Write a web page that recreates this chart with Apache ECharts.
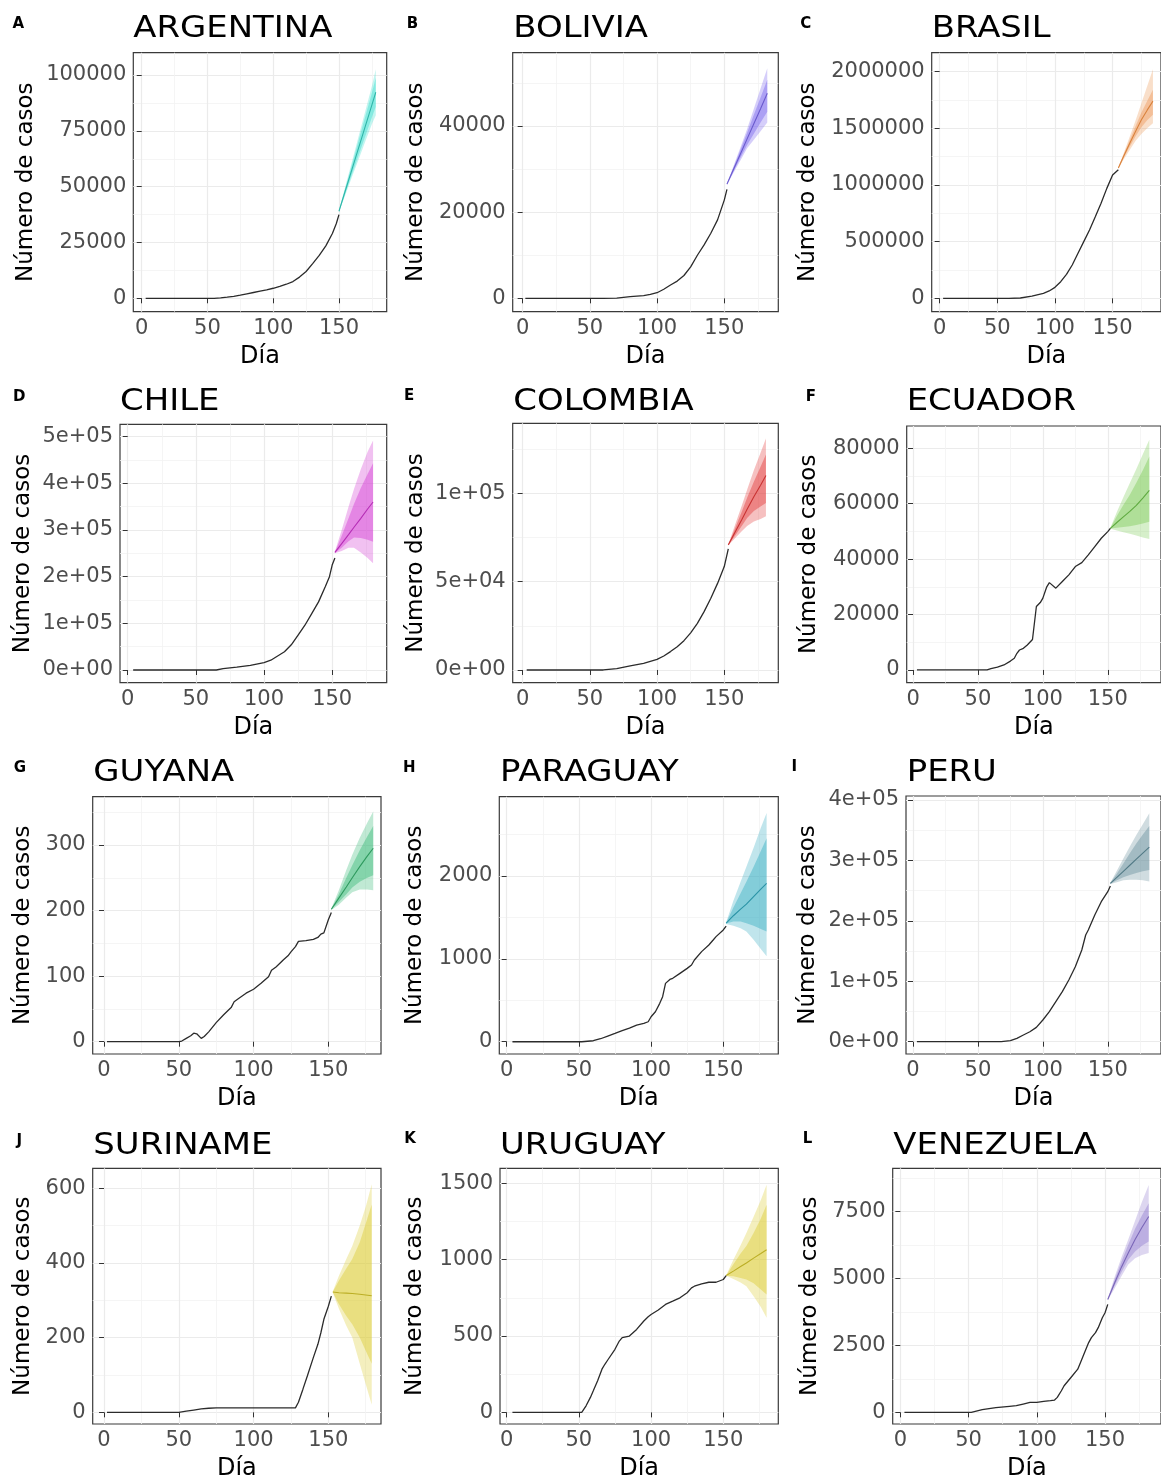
<!DOCTYPE html>
<html><head><meta charset="utf-8">
<script src="https://cdn.jsdelivr.net/npm/echarts@6/dist/echarts.min.js"></script>
<style>html,body{margin:0;padding:0;background:#fff}#c{width:1161px;height:1482px}</style>
</head><body><div id="c"></div>
<script>
// ---------------- DATA ----------------
const xTicks = [0, 50, 100, 150];
const xTickLabels = ['0', '50', '100', '150'];

// historical cumulative cases: [day, cases]
const argHist = [[3,0],[20,0],[40,0],[55,0],[60,150],[65,500],[70,900],[75,1400],[80,2000],[85,2600],[90,3200],[95,3800],[100,4500],[105,5300],[110,6300],[115,7500],[120,9500],[125,12000],[130,15500],[135,19200],[140,23500],[145,29000],[148,33500],[150,37500]];
const bolHist = [[2,0],[30,0],[60,0],[70,50],[80,400],[90,650],[95,900],[100,1300],[105,2100],[110,3100],[115,4000],[120,5300],[125,7300],[130,10000],[135,12400],[140,15100],[145,18200],[150,22800],[152,25300]];
const braHist = [[3,0],[30,0],[60,0],[70,3000],[80,20000],[90,44000],[95,65000],[100,97000],[105,147000],[110,212000],[115,294000],[120,397000],[125,500000],[130,603000],[135,720000],[140,838000],[145,970000],[150,1088000],[155,1135000]];
const chiHist = [[4,0],[30,0],[65,0],[70,3000],[80,6000],[90,10000],[100,16000],[105,21000],[110,30000],[115,39000],[120,54000],[125,75000],[130,96000],[135,121000],[140,146000],[145,179000],[148,200000],[150,225000],[152,240000]];
const colHist = [[3,0],[30,0],[60,0],[70,750],[80,2300],[90,3800],[100,6000],[105,7900],[110,10400],[115,13200],[120,16600],[125,21000],[130,26400],[135,33000],[140,40600],[145,49000],[150,58500],[153,68500]];
const ecuHist = [[3,0],[30,0],[57,0],[60,500],[65,1000],[70,1800],[75,3200],[78,4200],[80,6000],[82,7200],[85,7800],[88,9000],[92,11000],[95,22900],[98,24300],[100,25900],[103,30000],[105,31500],[110,29500],[115,31900],[120,34300],[125,37300],[130,38700],[135,41500],[140,44500],[145,47500],[150,49900],[152,51100]];
const guyHist = [[2,0],[30,0],[50,0],[52,1],[55,5],[58,9],[60,13],[62,12],[65,5],[67,8],[70,15],[75,29],[80,41],[85,52],[87,61],[90,66],[95,74],[100,80],[105,89],[110,99],[112,109],[115,114],[120,125],[123,131],[125,137],[128,145],[130,153],[135,154],[140,156],[143,159],[145,164],[147,166],[150,186],[152,197]];
const parHist = [[4,0],[30,0],[52,0],[60,12],[65,36],[70,68],[75,100],[80,133],[85,165],[90,201],[95,221],[98,241],[100,302],[103,362],[106,463],[108,543],[110,704],[113,752],[115,765],[120,825],[125,885],[128,926],[130,986],[135,1087],[140,1167],[143,1227],[145,1268],[150,1348],[152,1396]];
const perHist = [[3,0],[30,0],[68,0],[75,1700],[80,5500],[85,11000],[90,16500],[95,23700],[100,35900],[105,49700],[110,66200],[115,82800],[120,102000],[125,124000],[130,151700],[133,176600],[135,184800],[140,209700],[145,231700],[150,248300],[152,257700]];
const surHist = [[2,0],[30,0],[50,0],[55,3],[60,6],[65,9],[70,11],[75,12],[100,12],[128,12],[130,27],[133,62],[136,98],[140,147],[143,182],[145,213],[147,249],[150,284],[152,311]];
const uruHist = [[4,0],[30,0],[52,0],[55,43],[58,98],[60,141],[63,207],[66,283],[68,315],[70,343],[75,413],[78,467],[80,489],[85,500],[90,543],[95,598],[98,626],[100,641],[105,670],[110,707],[115,728],[120,750],[125,783],[128,815],[130,826],[135,841],[140,852],[145,852],[150,870],[152,896]];
const venHist = [[3,0],[30,0],[52,0],[60,99],[70,174],[80,223],[85,248],[90,310],[95,372],[100,372],[105,409],[110,434],[113,459],[115,558],[118,806],[120,992],[125,1302],[130,1612],[133,1983],[135,2231],[138,2603],[140,2789],[143,2975],[145,3161],[148,3533],[150,3719],[152,4029]];

// forecasts: [day, mean, lo80, hi80, lo95, hi95]
const argFc = [[150,39000,38800,39200,38600,39400],[155,48500,47300,49700,46500,50500],[160,58000,55800,60200,54500,61500],[165,67500,64200,70800,62300,72700],[170,77000,72600,81400,70200,83800],[175,86500,81000,92000,78000,95000],[178,92300,85800,98800,82000,102600]];
const bolFc = [[152,26500,26400,26600,26300,26700],[157,30000,29500,30500,29200,30800],[162,33500,32600,34400,32000,35000],[167,37000,35600,38400,34800,39300],[172,40500,38200,42600,36800,44000],[177,44000,40800,46600,38800,48700],[182,47600,43300,50700,40800,53400]];
const braFc = [[155,1150000,1146000,1154000,1143000,1157000],[160,1262000,1247000,1277000,1232000,1292000],[165,1370000,1340000,1400000,1310000,1430000],[170,1475000,1430000,1520000,1390000,1570000],[175,1575000,1510000,1640000,1450000,1720000],[180,1660000,1570000,1740000,1500000,1870000],[185,1740000,1620000,1840000,1545000,2020000]];
const chiFc = [[152,252000,251000,253000,250000,254000],[157,271000,262000,288000,255000,300000],[162,290000,276000,325000,262000,350000],[166,306000,284000,356000,262000,388000],[171,325000,283000,390000,252000,430000],[176,345000,279000,420000,240000,468000],[180,360000,275000,443000,229000,492000]];
const colFc = [[153,70800,70700,70900,70600,71000],[158,78000,76000,80000,74500,82000],[163,85000,81500,89500,78500,93000],[167,91000,86000,97500,81500,102000],[172,98000,90000,106500,84000,113000],[177,104500,92500,115000,85500,123000],[181,110000,94500,122000,87000,131000]];
const ecuFc = [[152,51100,51000,51200,50900,51300],[157,53200,51300,55500,50300,57000],[162,55200,51600,59500,49700,62300],[167,57200,51800,63200,49100,67400],[172,59400,52300,67500,48500,72500],[177,62000,52800,72000,47800,77800],[182,64800,53500,77000,47200,83000]];
const guyFc = [[152,202,201.5,202.5,201,203],[157,219,213,225,209,231],[162,236,225,250,220,262],[166,250,235,269,228,285],[171,267,244,292,232,311],[176,283,250,313,232,334],[180,295,254,329,231,351]];
const parFc = [[152,1430,1425,1435,1420,1440],[157,1520,1450,1620,1400,1700],[162,1600,1450,1790,1370,1930],[166,1660,1430,1930,1330,2110],[171,1750,1400,2110,1230,2340],[176,1840,1360,2300,1120,2580],[180,1910,1330,2455,1030,2760]];
const perFc = [[152,262000,261500,262500,261000,263000],[157,272000,267000,278000,264000,283000],[162,282000,272000,295000,267000,303000],[167,292000,276000,312000,268000,323000],[172,302000,279000,328000,268000,342000],[177,312000,282000,343000,267000,360000],[182,322000,284000,357000,265000,378000]];
const surFc = [[153,322,321,323,320,324],[157,320,290,352,278,365],[162,319,258,385,232,410],[166,318,236,410,200,445],[171,316,200,455,130,500],[175,314,165,505,75,550],[179,312,130,556,20,610]];
const uruFc = [[152,896,895,897,894,898],[157,925,892,970,874,1000],[162,955,880,1040,850,1095],[166,978,870,1090,826,1175],[171,1010,845,1175,760,1280],[176,1040,805,1270,690,1390],[180,1065,772,1360,620,1490]];
const venFc = [[152,4215,4200,4230,4180,4250],[157,4830,4730,4950,4620,5050],[162,5420,5230,5620,5080,5780],[167,5950,5700,6260,5520,6450],[172,6450,6000,6850,5750,7150],[177,6900,6220,7350,5870,7850],[182,7310,6380,7810,5950,8490]];

// y tick values and labels
const argYTicks = [0,25000,50000,75000,100000];   const argYLabels = ['0','25000','50000','75000','100000'];
const bolYTicks = [0,20000,40000];                const bolYLabels = ['0','20000','40000'];
const braYTicks = [0,500000,1000000,1500000,2000000]; const braYLabels = ['0','500000','1000000','1500000','2000000'];
const chiYTicks = [0,100000,200000,300000,400000,500000]; const chiYLabels = ['0e+00','1e+05','2e+05','3e+05','4e+05','5e+05'];
const colYTicks = [0,50000,100000];               const colYLabels = ['0e+00','5e+04','1e+05'];
const ecuYTicks = [0,20000,40000,60000,80000];    const ecuYLabels = ['0','20000','40000','60000','80000'];
const guyYTicks = [0,100,200,300];                const guyYLabels = ['0','100','200','300'];
const parYTicks = [0,1000,2000];                  const parYLabels = ['0','1000','2000'];
const perYTicks = [0,100000,200000,300000,400000]; const perYLabels = ['0e+00','1e+05','2e+05','3e+05','4e+05'];
const surYTicks = [0,200,400,600];                const surYLabels = ['0','200','400','600'];
const uruYTicks = [0,500,1000,1500];              const uruYLabels = ['0','500','1000','1500'];
const venYTicks = [0,2500,5000,7500];             const venYLabels = ['0','2500','5000','7500'];

const letters = ['A','B','C','D','E','F','G','H','I','J','K','L'];
const countries = ['ARGENTINA','BOLIVIA','BRASIL','CHILE','COLOMBIA','ECUADOR','GUYANA','PARAGUAY','PERU','SURINAME','URUGUAY','VENEZUELA'];
const hists = [argHist,bolHist,braHist,chiHist,colHist,ecuHist,guyHist,parHist,perHist,surHist,uruHist,venHist];
const fcs = [argFc,bolFc,braFc,chiFc,colFc,ecuFc,guyFc,parFc,perFc,surFc,uruFc,venFc];
const yTicksAll = [argYTicks,bolYTicks,braYTicks,chiYTicks,colYTicks,ecuYTicks,guyYTicks,parYTicks,perYTicks,surYTicks,uruYTicks,venYTicks];
const yLabelsAll = [argYLabels,bolYLabels,braYLabels,chiYLabels,colYLabels,ecuYLabels,guyYLabels,parYLabels,perYLabels,surYLabels,uruYLabels,venYLabels];

// ---------------- STYLE / LAYOUT ----------------
const bandColors = ['#40E0D0','#7B68EE','#ED9A5A','#D53FD5','#E23B3B','#80CC5A','#3CBB7A','#3AAFC4','#6C93A0','#DCCC35','#DCCC35','#9580D0'];
const meanColors = ['#2FB5A8','#6A5ACD','#D9823D','#B52DB5','#C83232','#5FAA40','#2E9A5E','#2A93A6','#527A86','#BBAE25','#BBAE25','#7A66B8'];
const layout = [
 {l:133.3,t:52.7,w:253.4,h:259,  x:[-6.4,186.3],  y:[-6000,110000],   yt:25.8, tx:133.3,ty:29, lx:18.3, ly:24.2},
 {l:512.7,t:52.7,w:265.6,h:259,  x:[-7.4,190.2],  y:[-3100,57000],    yt:415.8,tx:513.3,ty:29, lx:412.5,ly:23.8},
 {l:931.7,t:52.7,w:239.6,h:259,  x:[-6.9,192],    y:[-118000,2167000],yt:808.3,tx:931.7,ty:29, lx:805.8,ly:24},
 {l:120,  t:424.3,w:266.7,h:258.4,x:[-5.65,190],  y:[-27200,526600],  yt:23.3, tx:120,  ty:402,lx:19.2, ly:397.5},
 {l:512.7,t:423.3,w:265.6,h:259.4,x:[-7.4,190.2], y:[-7200,139600],   yt:415.8,tx:513.3,ty:402,lx:409.2,ly:396.2},
 {l:906.7,t:426,  w:265.6,h:256.7,x:[-4.9,191],   y:[-4600,88000],    yt:809.2,tx:906.7,ty:402,lx:810.8,ly:397},
 {l:92.7, t:796.7,w:288.3,h:257.3,x:[-7.56,185.2],y:[-18.8,373.7],    yt:23.3, tx:93.3, ty:773,  lx:20,   ly:768.3},
 {l:499.3,t:796.7,w:279,  h:257.3,x:[-5.1,188.1], y:[-148,2956],      yt:415,  tx:500,  ty:773,  lx:409.2,ly:768.3},
 {l:906,  t:796,  w:266.3,h:258,  x:[-5.4,191],   y:[-20400,406600],  yt:808.3,tx:906.7,ty:773,  lx:794.2,ly:767.5},
 {l:92.7, t:1168.3,w:288.3,h:256.7,x:[-7.56,185.2],y:[-31.2,653],     yt:23.3, tx:93.3, ty:1146,lx:19.2,ly:1140.8},
 {l:500,  t:1168.3,w:278.3,h:256.7,x:[-4.6,188.1], y:[-76,1598],      yt:415,  tx:500,  ty:1146,lx:410, ly:1139.2},
 {l:892.7,t:1168.3,w:281, h:256.7,x:[-5.6,191],   y:[-435,9110],      yt:810,  tx:893.3,ty:1146,lx:807.5,ly:1139.2}
];
const FONT = 'DejaVu Sans';
const TICK_COLOR = '#4D4D4D';
const GRID_MAJOR = '#EBEBEB';
const GRID_MINOR = '#F3F3F3';

function minorOf(ticks, lo, hi) {
  const step = ticks[1] - ticks[0];
  const out = [];
  for (let v = ticks[0] - step / 2; v <= hi; v += step) if (v >= lo) out.push(v);
  return out;
}
function rgba(hex, a) {
  const n = parseInt(hex.slice(1), 16);
  return 'rgba(' + (n >> 16 & 255) + ',' + (n >> 8 & 255) + ',' + (n & 255) + ',' + a + ')';
}
// forecast interval band drawn as one polygon through the axes' own scales
function bandSeries(i, loIdx, hiIdx, alpha, z) {
  const fc = fcs[i];
  return {
    type:'custom', xAxisIndex:2 * i, yAxisIndex:2 * i, clip:true, z:z, silent:true, animation:false,
    data: fc.map(r => [r[0], r[loIdx], r[hiIdx]]),
    encode: {x:0, y:[1, 2]},
    renderItem: (params, api) => {
      if (params.dataIndex !== 0) return null;
      const pts = [];
      for (let k = 0; k < fc.length; k++) pts.push(api.coord([fc[k][0], fc[k][hiIdx]]));
      for (let k = fc.length - 1; k >= 0; k--) pts.push(api.coord([fc[k][0], fc[k][loIdx]]));
      return {type:'polygon', shape:{points:pts}, style:{fill:rgba(bandColors[i], alpha), stroke:null}};
    }
  };
}

const grids = [], xAxes = [], yAxes = [], series = [], graphics = [];
layout.forEach((L, i) => {
  grids.push({left:L.l, top:L.t, width:L.w, height:L.h, show:true, borderColor:'#3a3a3a', borderWidth:1.2, backgroundColor:'#fff'});
  const yT = yTicksAll[i], yL = yLabelsAll[i];
  xAxes.push({type:'value', gridIndex:i, min:L.x[0], max:L.x[1], position:'bottom',
    axisLine:{show:false},
    axisTick:{show:true, length:5, lineStyle:{color:'#333', width:1}, customValues:xTicks},
    axisLabel:{customValues:xTicks, formatter:v => { const k = xTicks.indexOf(v); return k >= 0 ? xTickLabels[k] : ''; },
      color:TICK_COLOR, fontFamily:FONT, fontSize:21, margin:6},
    splitLine:{show:true, lineStyle:{color:GRID_MAJOR, width:1.2}},
    name:'Día', nameLocation:'middle', nameGap:33,
    nameTextStyle:{fontFamily:FONT, fontSize:24, color:'#000'}});
  xAxes.push({type:'value', gridIndex:i, min:L.x[0], max:L.x[1], position:'bottom',
    axisLine:{show:false}, axisTick:{show:false, customValues:minorOf(xTicks, L.x[0], L.x[1])},
    axisLabel:{show:false}, splitLine:{show:true, lineStyle:{color:GRID_MINOR, width:0.8}}});
  yAxes.push({type:'value', gridIndex:i, min:L.y[0], max:L.y[1], position:'left',
    axisLine:{show:false},
    axisTick:{show:true, length:5, lineStyle:{color:'#333', width:1}, customValues:yT},
    axisLabel:{customValues:yT, formatter:v => { const k = yT.indexOf(v); return k >= 0 ? yL[k] : ''; },
      color:TICK_COLOR, fontFamily:FONT, fontSize:21, margin:7},
    splitLine:{show:true, lineStyle:{color:GRID_MAJOR, width:1.2}},
    name:'Número de casos', nameLocation:'middle', nameGap:(L.l - L.yt - 11.5),
    nameTextStyle:{fontFamily:FONT, fontSize:23, color:'#000'}});
  yAxes.push({type:'value', gridIndex:i, min:L.y[0], max:L.y[1], position:'left',
    axisLine:{show:false}, axisTick:{show:false, customValues:minorOf(yT, L.y[0], L.y[1])},
    axisLabel:{show:false}, splitLine:{show:true, lineStyle:{color:GRID_MINOR, width:0.8}}});

  const fc = fcs[i];
  const base = {type:'line', xAxisIndex:2 * i, yAxisIndex:2 * i, symbol:'none', showSymbol:false, silent:true, animation:false};
  series.push(bandSeries(i, 4, 5, 0.32, 2));   // 95% interval
  series.push(bandSeries(i, 2, 3, 0.45, 3));   // 80% interval
  series.push(Object.assign({}, base, {z:4, lineStyle:{color:meanColors[i], width:1.1}, data:fc.map(r => [r[0], r[1]])}));
  series.push(Object.assign({}, base, {z:5, lineStyle:{color:'#2b2b2b', width:1.3}, data:hists[i]}));

  graphics.push({type:'text', x:L.tx, y:L.ty, scaleX:1.13, silent:true,
    style:{text:countries[i], font:'30px "DejaVu Sans"', fill:'#000', textAlign:'left', textVerticalAlign:'middle'}});
  graphics.push({type:'text', x:L.lx, y:L.ly, silent:true,
    style:{text:letters[i], font:'bold 15px "DejaVu Sans"', fill:'#000', textAlign:'center', textVerticalAlign:'middle'}});
});

const chart = echarts.init(document.getElementById('c'), null, {renderer:'canvas'});
chart.setOption({
  animation:false,
  backgroundColor:'#fff',
  grid:grids, xAxis:xAxes, yAxis:yAxes, series:series, graphic:graphics
});
</script></body></html>
